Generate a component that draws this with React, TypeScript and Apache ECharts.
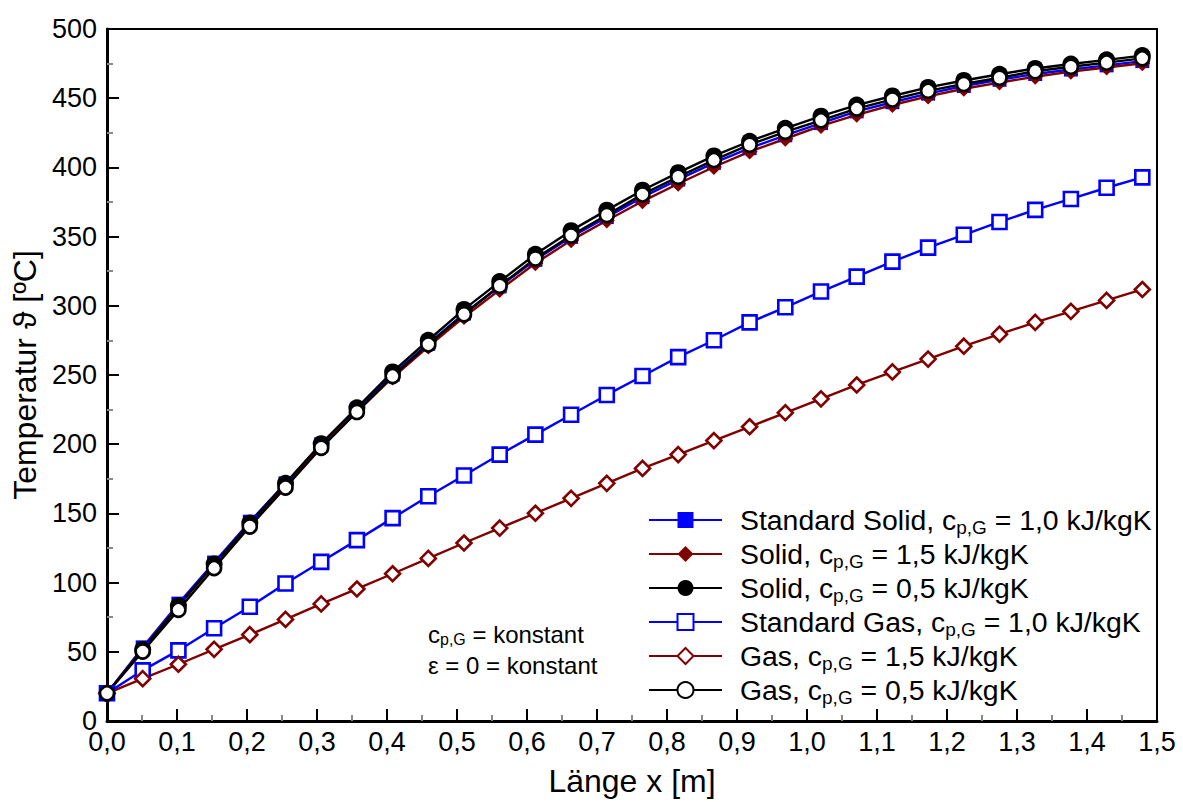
import React, { useEffect, useRef } from 'react';
import * as echarts from 'echarts';

const xPositions = [0, 0.051, 0.102, 0.153, 0.204, 0.255, 0.306, 0.357, 0.408, 0.459, 0.51, 0.561, 0.612, 0.663, 0.714, 0.765, 0.816, 0.867, 0.918, 0.969, 1.02, 1.071, 1.122, 1.173, 1.224, 1.275, 1.326, 1.377, 1.428, 1.479];

const standardSolid = [20, 53.2, 84.8, 114.5, 144, 171.7, 199.9, 225.3, 250.2, 272.6, 294.4, 314, 333.2, 349.8, 364.1, 378.5, 391.2, 403.3, 413.9, 423.2, 432, 440.5, 447.1, 453.3, 458.8, 463.3, 467.5, 470.7, 473.7, 476.8];
const solid15 = [20, 52.2, 83.3, 113, 142, 170.2, 198.4, 223.3, 248.2, 270.6, 291.9, 311.5, 330.7, 347.3, 361.6, 375.5, 388.2, 400.3, 411.4, 420.7, 430, 438, 445.1, 451.3, 456.8, 461.3, 465.5, 469.2, 472.2, 475.3];
const solid05 = [20, 51.7, 83.3, 113.5, 143, 171.7, 200.4, 226.3, 252.2, 275.1, 297.4, 317.5, 337.2, 354.3, 369.1, 383.5, 396.2, 408.3, 418.9, 428.2, 437, 445, 451.6, 457.8, 462.8, 467.3, 471.5, 474.7, 477.7, 480.8];
const standardGas = [20, 36.6, 51, 67, 82.6, 99.4, 115, 130.7, 146.6, 162.4, 177.4, 192.5, 206.9, 221.3, 235.6, 249.3, 262.9, 275.1, 288, 298.9, 310.3, 321.1, 331.9, 342, 351.3, 360.6, 369.3, 377.2, 385.3, 392.8];
const gas15 = [20, 30.6, 41, 51.8, 62.4, 73.4, 84.6, 95.4, 106.4, 117.5, 128.6, 139.4, 150.1, 160.9, 171.7, 182.5, 192.5, 202.6, 212.6, 222.7, 232.8, 242.8, 252.2, 261.5, 270.8, 279.5, 288, 296, 303.9, 311.8];
const gas05 = [20, 50.2, 80.3, 110.5, 140.5, 168.7, 197.4, 223.3, 249.2, 272.1, 293.9, 314.5, 334.2, 350.8, 365.6, 380.5, 393.2, 405.3, 416.4, 425.7, 434, 442.5, 449.1, 455.3, 460.3, 464.8, 469.5, 472.7, 475.7, 478.8];

const seriesNames = [
  'Standard Solid, c_p,G = 1,0 kJ/kgK',
  'Solid, c_p,G = 1,5 kJ/kgK',
  'Solid, c_p,G = 0,5 kJ/kgK',
  'Standard Gas, c_p,G = 1,0 kJ/kgK',
  'Gas, c_p,G = 1,5 kJ/kgK',
  'Gas, c_p,G = 0,5 kJ/kgK',
];

const xAxisTitle = 'Länge x [m]';
const yAxisTitle = 'Temperatur ϑ [ºC]';
const noteLine1 = ['c', 'p,G', ' = konstant'];
const noteLine2 = 'ε = 0 = konstant';

const FONT = '"Liberation Sans", Arial, Helvetica, sans-serif';
const BLUE = '#0000ff';
const RED = '#800000';
const BLACK = '#000000';

function pairs(values: number[]) {
  return xPositions.map((x, i) => [x, values[i]]);
}

export default function App() {
  const ref = useRef<HTMLDivElement>(null);
  useEffect(() => {
    const chart = echarts.init(ref.current!, undefined, { renderer: 'svg' });
    const mk = (
      name: string,
      values: number[],
      color: string,
      symbol: string,
      size: number,
      empty: boolean
    ) => ({
      name,
      type: 'line',
      data: pairs(values),
      symbol,
      symbolSize: size,
      showSymbol: true,
      lineStyle: { color, width: 2.4 },
      itemStyle: empty
        ? { color: '#ffffff', borderColor: color, borderWidth: 2.6 }
        : { color, borderWidth: 0 },
      emphasis: { disabled: true },
    });

    const option: any = {
      animation: false,
      backgroundColor: '#ffffff',
      textStyle: { fontFamily: FONT },
      grid: {
        left: 107,
        right: 26,
        top: 29,
        bottom: 77,
        show: true,
        borderColor: BLACK,
        borderWidth: 2,
        containLabel: false,
      },
      legend: {
        orient: 'vertical',
        left: 643,
        top: 498,
        itemWidth: 73,
        itemHeight: 20,
        itemGap: 0,
        data: seriesNames,
        formatter: (name: string) => name.replace('c_p,G', 'c{sub|p,G}'),
        textStyle: {
          fontFamily: FONT,
          fontSize: 28.4,
          color: BLACK,
          lineHeight: 34,
          padding: [0, 0, 0, 13],
          rich: {
            sub: {
              fontFamily: FONT,
              fontSize: 19,
              color: BLACK,
              verticalAlign: 'bottom',
              lineHeight: 15,
            },
          },
        },
      },
      xAxis: {
        type: 'value',
        min: 0,
        max: 1.5,
        interval: 0.1,
        name: xAxisTitle,
        nameLocation: 'middle',
        nameGap: 44,
        nameTextStyle: { fontFamily: FONT, fontSize: 32, color: BLACK },
        axisLine: { show: true, lineStyle: { color: BLACK, width: 3 } },
        axisTick: { show: true, inside: true, length: 12, lineStyle: { color: BLACK, width: 2 } },
        minorTick: { show: true, splitNumber: 2, length: 6, lineStyle: { color: '#888888', width: 2 } },
        splitLine: { show: false },
        minorSplitLine: { show: false },
        axisLabel: {
          fontFamily: FONT,
          fontSize: 27,
          lineHeight: 20,
          color: BLACK,
          margin: 11,
          formatter: (v: number) => v.toFixed(1).replace('.', ','),
        },
      },
      yAxis: {
        type: 'value',
        min: 0,
        max: 500,
        interval: 50,
        name: yAxisTitle,
        nameLocation: 'middle',
        nameGap: 64,
        nameTextStyle: { fontFamily: FONT, fontSize: 32, color: BLACK },
        axisLine: { show: true, lineStyle: { color: BLACK, width: 3 } },
        axisTick: { show: true, inside: true, length: 12, lineStyle: { color: BLACK, width: 2 } },
        minorTick: { show: true, splitNumber: 2, length: 6, lineStyle: { color: '#888888', width: 2 } },
        splitLine: { show: false },
        minorSplitLine: { show: false },
        axisLabel: {
          fontFamily: FONT,
          fontSize: 27,
          lineHeight: 20,
          color: BLACK,
          margin: 10,
        },
      },
      graphic: [
        {
          type: 'text',
          x: 428,
          y: 634,
          style: {
            text: `{m|${noteLine1[0]}}{s|${noteLine1[1]}}{m|${noteLine1[2]}}`,
            verticalAlign: 'middle',
            align: 'left',
            rich: {
              m: { fontFamily: FONT, fontSize: 24, fill: BLACK, lineHeight: 26 },
              s: { fontFamily: FONT, fontSize: 16, fill: BLACK, verticalAlign: 'bottom', lineHeight: 12 },
            },
          },
        },
        {
          type: 'text',
          x: 428,
          y: 665,
          style: {
            text: noteLine2,
            font: `24px ${FONT}`,
            fill: BLACK,
            verticalAlign: 'middle',
            align: 'left',
          },
        },
      ],
      series: [
        mk(seriesNames[0], standardSolid, BLUE, 'rect', 14, false),
        mk(seriesNames[1], solid15, RED, 'diamond', 16, false),
        mk(seriesNames[2], solid05, BLACK, 'circle', 17, false),
        mk(seriesNames[3], standardGas, BLUE, 'rect', 14, true),
        mk(seriesNames[4], gas15, RED, 'diamond', 15, true),
        mk(seriesNames[5], gas05, BLACK, 'circle', 14, true),
      ],
    };
    chart.setOption(option);
    return () => chart.dispose();
  }, []);
  return (
    <div
      ref={ref}
      style={{ position: 'fixed', left: 0, top: 0, width: 1183, height: 802, background: '#fff' }}
    />
  );
}
